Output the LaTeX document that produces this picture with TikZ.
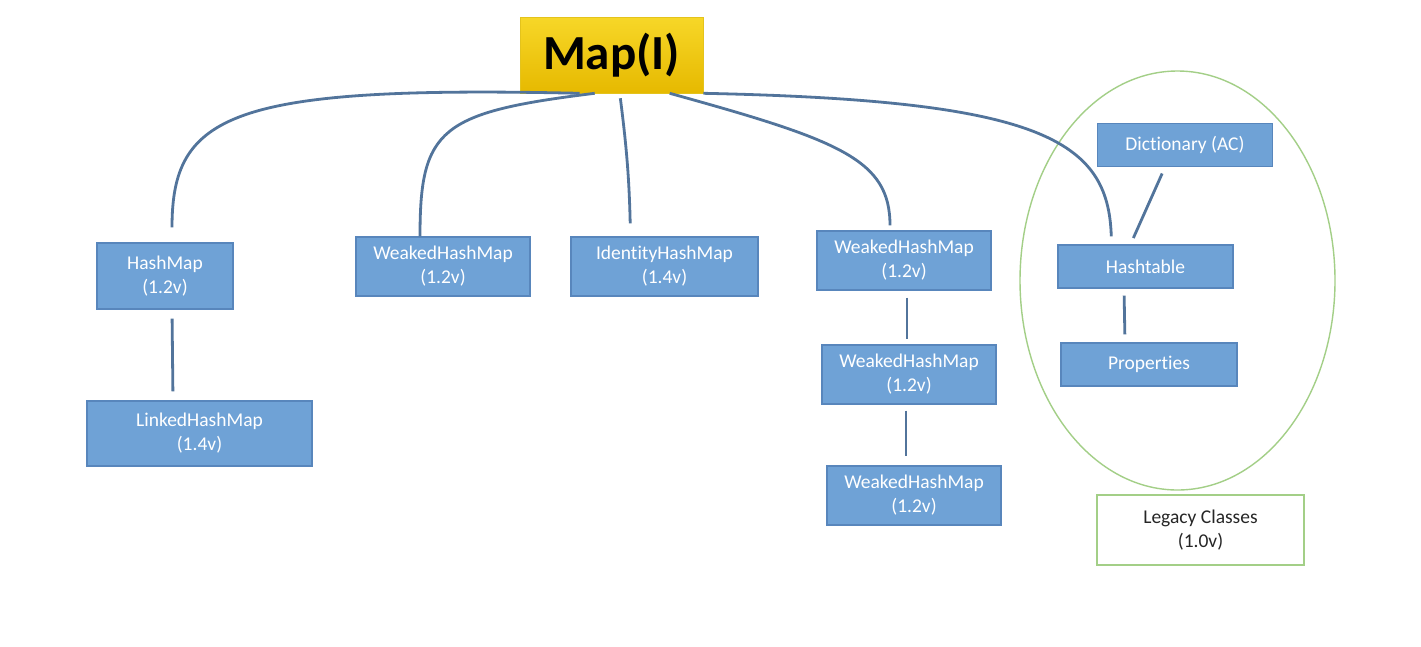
\documentclass[tikz,border=0pt]{standalone}
\usepackage{fontspec}
\setmainfont[Ligatures=NoCommon]{Carlito}
\usepackage{tikz}
\usetikzlibrary{positioning,arrows,calc,shapes.geometric}

\definecolor{boxfill}{HTML}{6FA2D6}
\definecolor{boxline}{HTML}{5886BC}
\definecolor{linkcol}{HTML}{52749B}
\definecolor{legacygreen}{HTML}{A3CF87}
\definecolor{mapgold}{HTML}{F7D728}
\definecolor{mapgoldlow}{HTML}{E6B900}

\tikzset{
  classbox/.style={draw=boxline, fill=boxfill, line width=1.2pt, text=white,
    align=center, inner sep=0pt, font=\fontsize{19.5}{24}\selectfont},
  link/.style={draw=linkcol, line width=2.8pt},
  mapbox/.style={top color=mapgold, bottom color=mapgoldlow, draw=mapgoldlow!80!black!30!mapgold,
    line width=0.6pt, minimum width=183pt, minimum height=76pt, inner sep=0pt,
    font=\fontsize{49}{52}\selectfont\bfseries},
  legacy/.style={draw=legacygreen, line width=1.4pt}
}

\begin{document}
\begin{tikzpicture}[x=1pt,y=-1pt]

  \useasboundingbox (0,0) rectangle (1421,646);
  \fill[white] (0,0) rectangle (1421,646);

  \node[legacy, ellipse, minimum width=315pt, minimum height=419pt, inner sep=0pt] (legacyring) at (1177.5,280.5) {};

  \node[mapbox] (map) at (611.5,55) {Map(I)};

  \node[classbox, minimum width=136pt, minimum height=66pt] (hashmap) at (165,276) {HashMap\\(1.2v)};
  \node[classbox, minimum width=225pt, minimum height=65pt] (linkedhashmap) at (199.5,433.5) {LinkedHashMap\\(1.4v)};
  \node[classbox, minimum width=174pt, minimum height=59pt] (weakedA) at (443,266.5) {WeakedHashMap\\(1.2v)};
  \node[classbox, minimum width=187pt, minimum height=59pt] (identity) at (664.5,266.5) {IdentityHashMap\\(1.4v)};
  \node[classbox, minimum width=174pt, minimum height=59pt] (weakedB) at (904,260.5) {WeakedHashMap\\(1.2v)};
  \node[classbox, minimum width=174pt, minimum height=59pt] (weakedC) at (909,374.5) {WeakedHashMap\\(1.2v)};
  \node[classbox, minimum width=174pt, minimum height=59pt] (weakedD) at (914,495.5) {WeakedHashMap\\(1.2v)};

  \node[classbox, minimum width=175pt, minimum height=43pt] (dictionary) at (1185,145) {Dictionary (AC)};
  \node[classbox, minimum width=175pt, minimum height=43pt] (hashtable) at (1145.5,266.5) {Hashtable};
  \node[classbox, minimum width=176pt, minimum height=43pt] (properties) at (1149,364.5) {Properties};

  \node[legacy, fill=white, minimum width=207pt, minimum height=70pt, inner sep=0pt, align=center,
    text=black!85, font=\fontsize{19.5}{24}\selectfont] (legacynote) at (1200.5,530) {Legacy Classes\\(1.0v)};

  % Map(I) to its children
  \draw[link, shorten >=15pt] ([xshift=60pt]map.south west) .. controls +(-350,-8) and +(0,-128) .. ([xshift=7pt]hashmap.north);
  \draw[link] ([xshift=75pt]map.south west) .. controls +(-155,19) and +(0,-107.5) .. ([xshift=-23pt]weakedA.north);
  \draw[link, shorten <=5pt, shorten >=13pt] ([xshift=100pt]map.south west) to[bend left=3] ([xshift=-34pt]identity.north);
  \draw[link, shorten >=5pt] ([xshift=150pt]map.south west) .. controls +(170,47) and +(0,-71) .. ([xshift=-14pt]weakedB.north);
  \draw[link, shorten >=8pt] (map.south east) .. controls +(337,7) and +(-3,-105) .. ([xshift=-34pt]hashtable.north);

  % chains below
  \draw[link, shorten <=9pt, shorten >=9pt] ([xshift=7pt]hashmap.south) -- ([xshift=-26.5pt]linkedhashmap.north);
  \draw[link, shorten <=7pt, shorten >=5pt] ([xshift=3pt]weakedB.south) -- ([xshift=-2pt]weakedC.north);
  \draw[link, shorten <=6pt, shorten >=9pt] ([xshift=-3pt]weakedC.south) -- ([xshift=-8pt]weakedD.north);
  \draw[link, shorten <=7pt, shorten >=7pt] ([xshift=-20pt]dictionary.south) -- ([xshift=-15pt]hashtable.north);
  \draw[link, shorten <=7pt, shorten >=8pt] ([xshift=-21.5pt]hashtable.south) -- ([xshift=-24pt]properties.north);

\end{tikzpicture}
\end{document}
